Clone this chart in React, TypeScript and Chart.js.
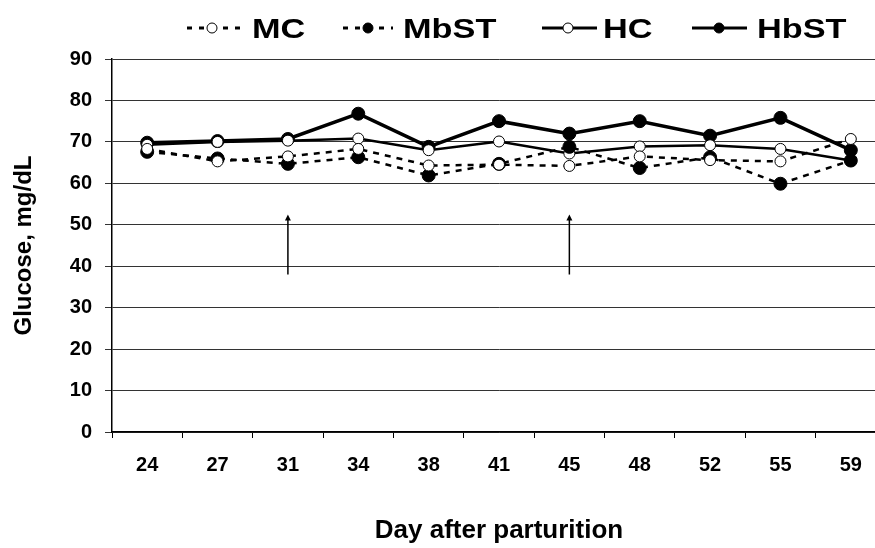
import React, { useEffect, useRef } from "react";
import { Chart, registerables } from "chart.js";

Chart.register(...registerables);

const days = ["24", "27", "31", "34", "38", "41", "45", "48", "52", "55", "59"];
const mcValues = [68.3, 65.3, 66.5, 68.3, 64.3, 64.5, 64.2, 66.5, 65.6, 65.3, 70.7];
const mbstValues = [67.6, 66.0, 64.7, 66.3, 61.9, 64.7, 68.8, 63.7, 66.3, 59.9, 65.5];
const hcValues = [69.3, 70.0, 70.3, 70.8, 68.0, 70.1, 67.2, 68.9, 69.2, 68.3, 65.5];
const hbstValues = [69.8, 70.2, 70.7, 76.8, 68.8, 75.0, 72.0, 75.0, 71.5, 75.8, 68.0];
const yTicks = [0, 10, 20, 30, 40, 50, 60, 70, 80, 90];
const arrowDays = ["31", "45"];
const arrowFrom = 38;
const arrowTo = 52.5;

const FONT = "'Liberation Sans', Arial, sans-serif";

const legendItems = [
  { label: "MC", dashed: true, filled: false, lineX1: 187, lineX2: 240, cx: 212, textX: 252 },
  { label: "MbST", dashed: true, filled: true, lineX1: 343, lineX2: 393, cx: 368, textX: 403 },
  { label: "HC", dashed: false, filled: false, lineX1: 542, lineX2: 597, cx: 568, textX: 603 },
  { label: "HbST", dashed: false, filled: true, lineX1: 692, lineX2: 747, cx: 719, textX: 757 },
];

const legendPlugin = {
  id: "customLegend",
  afterDraw(chart: any) {
    const ctx = chart.ctx;
    const y = 28;
    ctx.save();
    for (const it of legendItems) {
      ctx.strokeStyle = "#000";
      ctx.lineWidth = 3;
      ctx.setLineDash(it.dashed ? [5, 7] : []);
      ctx.beginPath();
      ctx.moveTo(it.lineX1, y);
      ctx.lineTo(it.lineX2, y);
      ctx.stroke();
      ctx.setLineDash([]);
      ctx.beginPath();
      ctx.arc(it.cx, y, 5, 0, Math.PI * 2);
      ctx.fillStyle = it.filled ? "#000" : "#fff";
      ctx.fill();
      ctx.lineWidth = 1;
      ctx.stroke();
      ctx.fillStyle = "#000";
      ctx.font = `bold 27px ${FONT}`;
      ctx.textAlign = "left";
      ctx.textBaseline = "alphabetic";
      ctx.save();
      ctx.translate(it.textX, 38);
      ctx.scale(1.27, 1);
      ctx.fillText(it.label, 0, 0);
      ctx.restore();
    }
    ctx.restore();
  },
};

const arrowPlugin = {
  id: "arrows",
  afterDatasetsDraw(chart: any) {
    const ctx = chart.ctx;
    const xs = chart.scales.x;
    const ys = chart.scales.y;
    ctx.save();
    ctx.strokeStyle = "#000";
    ctx.fillStyle = "#000";
    ctx.lineWidth = 1.5;
    for (const d of arrowDays) {
      const x = xs.getPixelForValue(days.indexOf(d));
      const y1 = ys.getPixelForValue(arrowFrom);
      const y2 = ys.getPixelForValue(arrowTo);
      ctx.beginPath();
      ctx.moveTo(x, y1);
      ctx.lineTo(x, y2 + 4);
      ctx.stroke();
      ctx.beginPath();
      ctx.moveTo(x, y2);
      ctx.lineTo(x - 3, y2 + 6);
      ctx.lineTo(x + 3, y2 + 6);
      ctx.closePath();
      ctx.fill();
    }
    ctx.restore();
  },
};

export default function App() {
  const ref = useRef<HTMLCanvasElement | null>(null);
  useEffect(() => {
    if (!ref.current) return;
    const common = { pointBorderColor: "#000", pointBorderWidth: 1, borderColor: "#000" };
    const chart = new Chart(ref.current, {
      type: "line",
      data: {
        labels: days,
        datasets: [
          { ...common, label: "MC", data: mcValues, borderWidth: 2.5, borderDash: [6, 6], pointRadius: 5.5, pointBackgroundColor: "#fff" },
          { ...common, label: "MbST", data: mbstValues, borderWidth: 2.5, borderDash: [6, 6], pointRadius: 6.5, pointBackgroundColor: "#000" },
          { ...common, label: "HC", data: hcValues, borderWidth: 2.5, pointRadius: 5.5, pointBackgroundColor: "#fff" },
          { ...common, label: "HbST", data: hbstValues, borderWidth: 3.5, pointRadius: 6.5, pointBackgroundColor: "#000" },
        ],
      },
      options: {
        animation: false,
        responsive: false,
        devicePixelRatio: 1,
        layout: { padding: { top: 59, right: 14, left: 0, bottom: 0 } },
        plugins: { legend: { display: false }, tooltip: { enabled: false } },
        scales: {
          x: {
            type: "category",
            offset: true,
            grid: { offset: true, drawOnChartArea: false, tickLength: 6, color: "#000", lineWidth: 1 },
            border: { display: true, color: "#000", width: 1.5 },
            ticks: { color: "#000", font: { family: FONT, size: 20, weight: "bold" }, padding: 15, maxRotation: 0 },
            title: { display: true, text: "Day after parturition", color: "#000", font: { family: FONT, size: 26, weight: "bold" }, padding: { top: 0, bottom: 2 } },
            afterFit(scale: any) { scale.height = 116; },
          },
          y: {
            min: 0,
            max: 90,
            afterBuildTicks(scale: any) { scale.ticks = yTicks.map((v) => ({ value: v })); },
            grid: { color: "#333", lineWidth: 1, tickLength: 7 },
            border: { display: true, color: "#000", width: 1.5 },
            ticks: { color: "#000", font: { family: FONT, size: 20, weight: "bold" }, padding: 13 },
            title: { display: true, text: "Glucose, mg/dL", color: "#000", font: { family: FONT, size: 24, weight: "bold" }, padding: { top: 10, bottom: 0 } },
            afterFit(scale: any) { scale.width = 112; },
          },
        },
      },
      plugins: [legendPlugin, arrowPlugin],
    });
    return () => chart.destroy();
  }, []);
  return (
    <div style={{ position: "absolute", left: 0, top: 0, width: 875, height: 548, overflow: "hidden", background: "#fff" }}>
      <canvas ref={ref} width={900} height={548} style={{ width: 900, height: 548 }} />
    </div>
  );
}
